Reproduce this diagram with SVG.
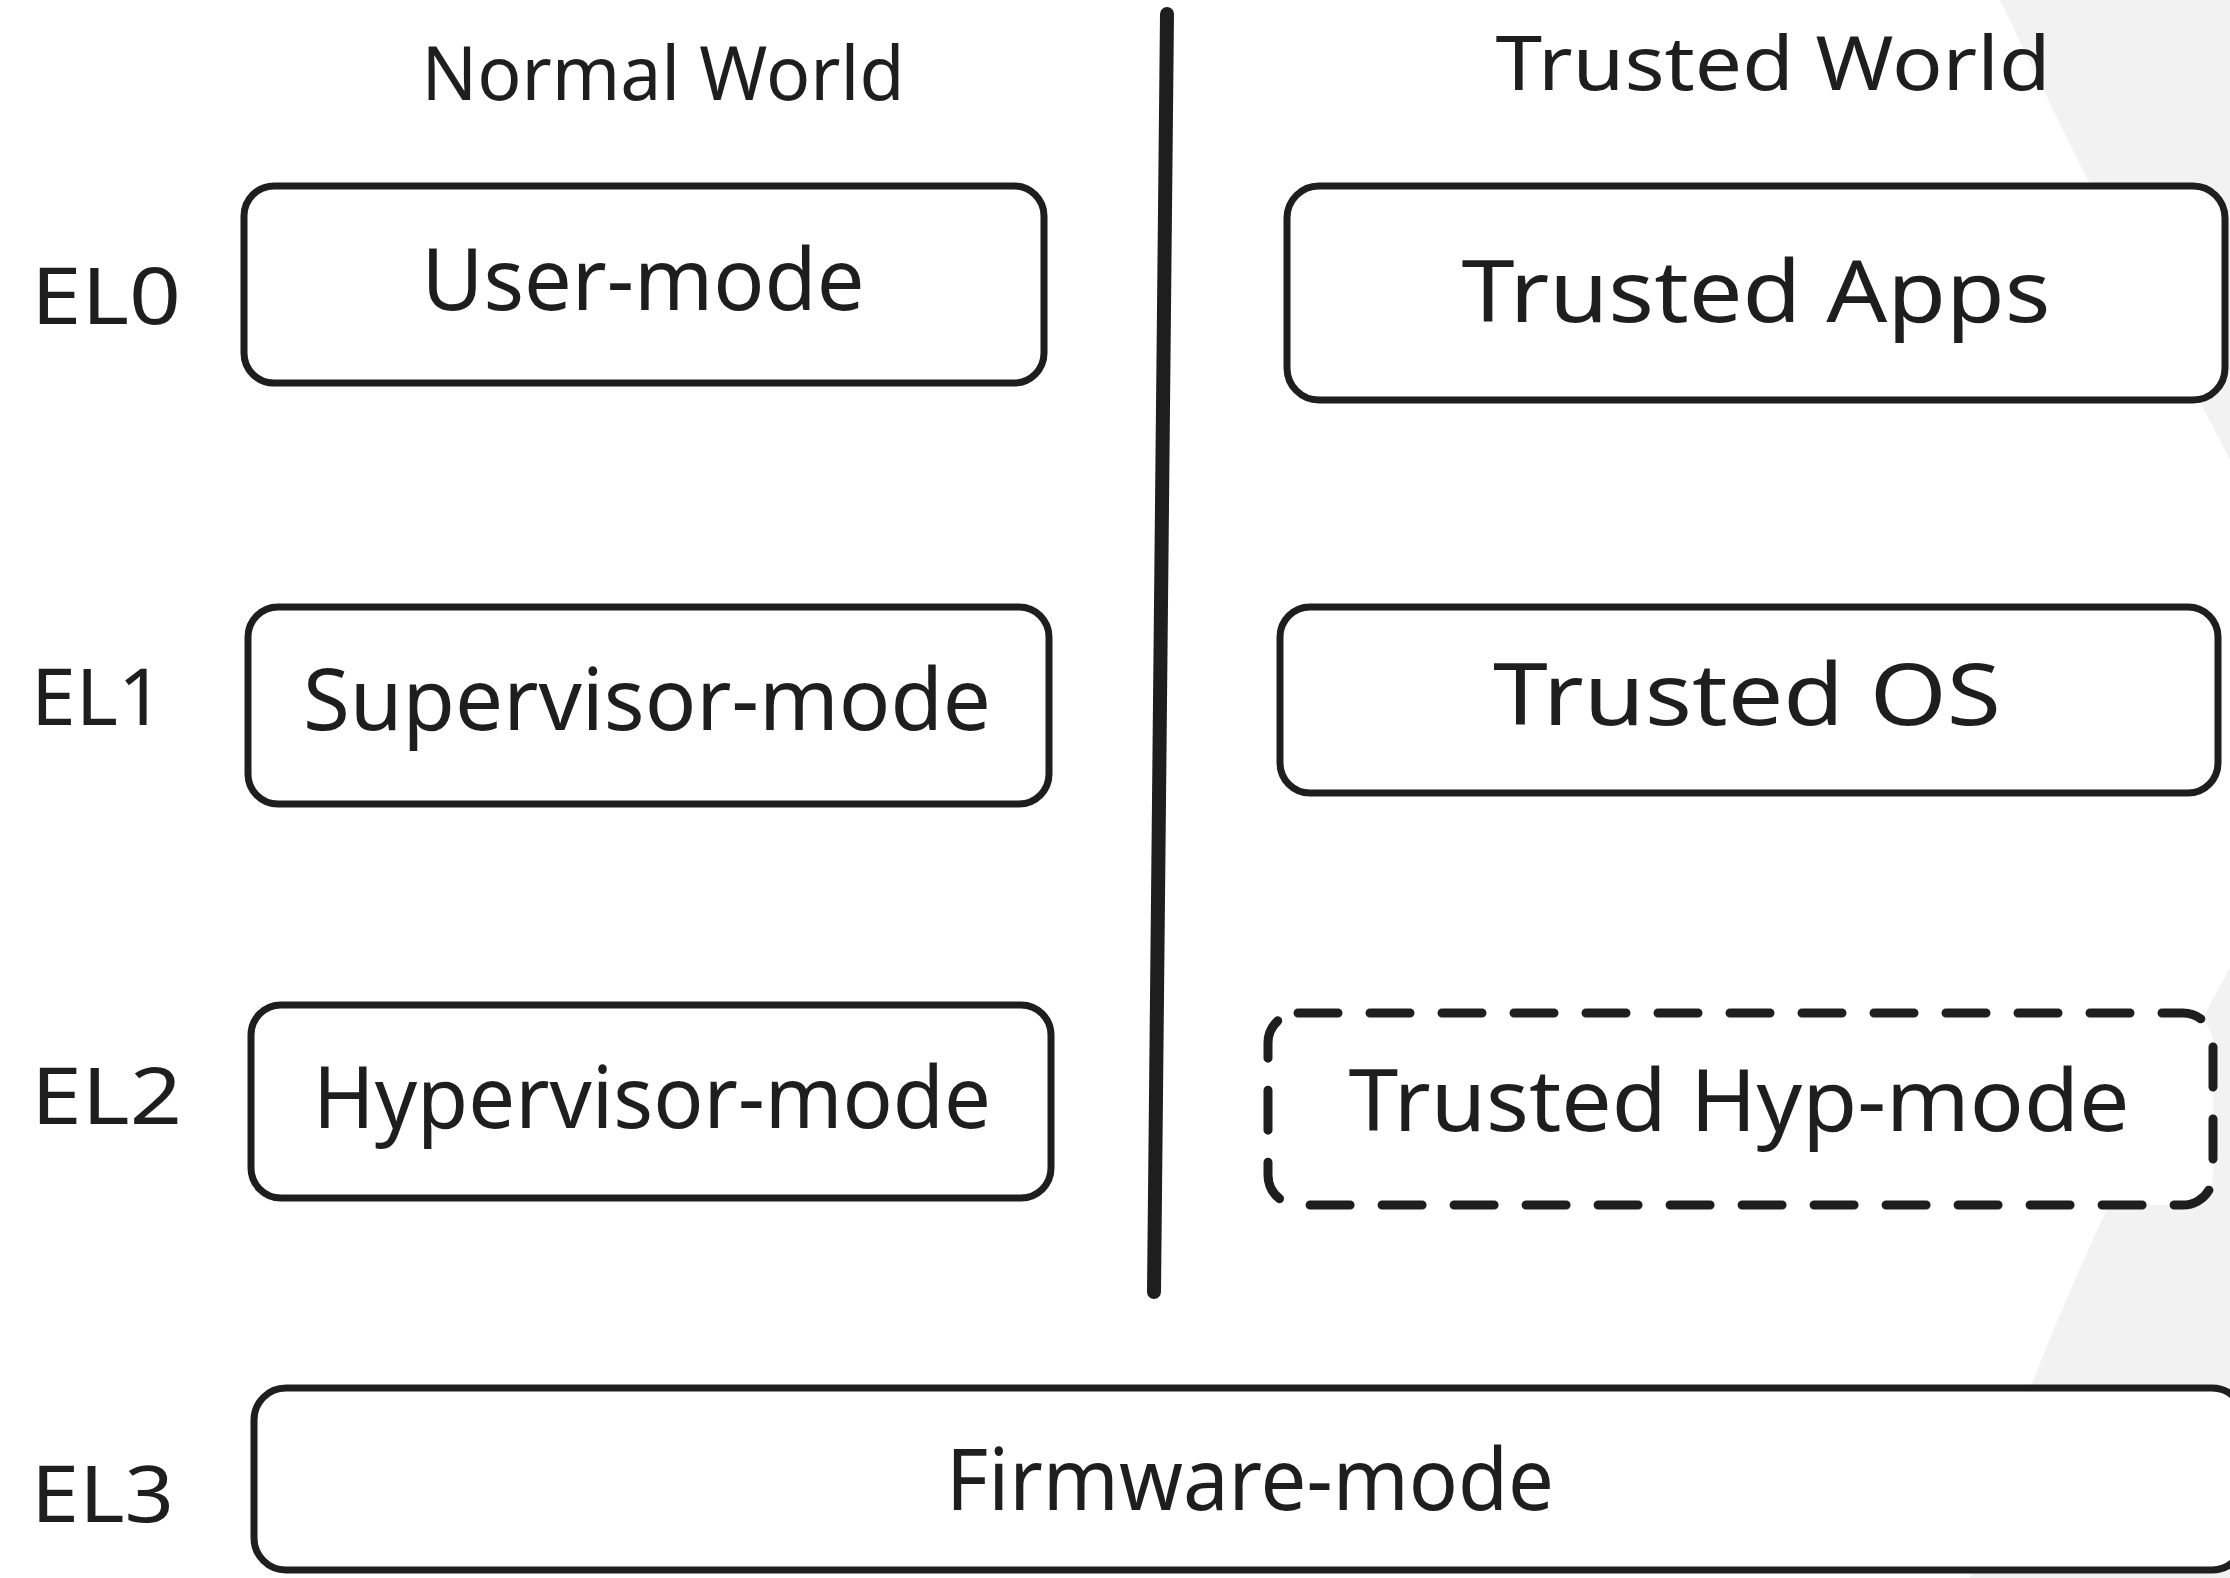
<svg xmlns="http://www.w3.org/2000/svg" width="2230" height="1578" viewBox="0 0 2230 1578">
<style>
.box{fill:#ffffff;stroke:#1e1e1e;stroke-width:7;stroke-linejoin:round}
.dash{fill:#ffffff;stroke:#1e1e1e;stroke-width:9;stroke-dasharray:40 32;stroke-linecap:round}
.lbl{font-family:"Noto Sans","Liberation Sans",sans-serif;fill:#1e1e1e;text-anchor:middle}
.el{font-family:"Noto Sans","Liberation Sans",sans-serif;fill:#1e1e1e;font-size:78px}
.big{font-size:86px}
.title{font-size:74px}
</style>
<rect width="2230" height="1578" fill="#ffffff"/>
<g id="background">
<path d="M2000,0 Q2110,230 2230,460 L2230,0 Z" fill="#f2f2f2"/>
<path d="M2230,968 C2134,1143 2016,1383 1970,1578 L2230,1578 Z" fill="#f2f2f2"/>
</g>
<g id="titles">
<text class="lbl title" x="663" y="100" textLength="483" lengthAdjust="spacingAndGlyphs">Normal World</text>
<text class="lbl title" x="1773" y="90" textLength="555" lengthAdjust="spacingAndGlyphs">Trusted World</text>
</g>
<g id="levels">
<text class="el" x="31" y="324" textLength="150" lengthAdjust="spacingAndGlyphs">EL0</text>
<text class="el" x="31" y="725" textLength="133" lengthAdjust="spacingAndGlyphs">EL1</text>
<text class="el" x="31" y="1124" textLength="151" lengthAdjust="spacingAndGlyphs">EL2</text>
<text class="el" x="31" y="1522" textLength="143" lengthAdjust="spacingAndGlyphs">EL3</text>
</g>
<g id="connectors">
<path d="M1167,14 L1154,1292" fill="none" stroke="#1e1e1e" stroke-width="14" stroke-linecap="round"/>
</g>
<g id="user-mode">
<rect class="box" x="244" y="186" width="800" height="197" rx="30"/>
<text class="lbl big" x="643" y="310" textLength="443" lengthAdjust="spacingAndGlyphs">User-mode</text>
</g>
<g id="trusted-apps">
<rect class="box" x="1287" y="186" width="938" height="214" rx="32"/>
<text class="lbl big" x="1756" y="322" textLength="589" lengthAdjust="spacingAndGlyphs">Trusted Apps</text>
</g>
<g id="supervisor-mode">
<rect class="box" x="248" y="607" width="801" height="197" rx="30"/>
<text class="lbl big" x="647" y="730" textLength="688" lengthAdjust="spacingAndGlyphs">Supervisor-mode</text>
</g>
<g id="trusted-os">
<rect class="box" x="1280" y="607" width="938" height="186" rx="30"/>
<text class="lbl big" x="1747" y="725" textLength="508" lengthAdjust="spacingAndGlyphs">Trusted OS</text>
</g>
<g id="hypervisor-mode">
<rect class="box" x="251" y="1005" width="800" height="193" rx="30"/>
<text class="lbl big" x="652" y="1128" textLength="678" lengthAdjust="spacingAndGlyphs">Hypervisor-mode</text>
</g>
<g id="trusted-hyp-mode">
<rect class="dash" x="1268" y="1013" width="945" height="192" rx="30"/>
<text class="lbl big" x="1739" y="1131" textLength="781" lengthAdjust="spacingAndGlyphs">Trusted Hyp-mode</text>
</g>
<g id="firmware-mode">
<rect class="box" x="254" y="1388" width="1990" height="182" rx="32"/>
<text class="lbl big" x="1250" y="1510" textLength="608" lengthAdjust="spacingAndGlyphs">Firmware-mode</text>
</g>
</svg>
